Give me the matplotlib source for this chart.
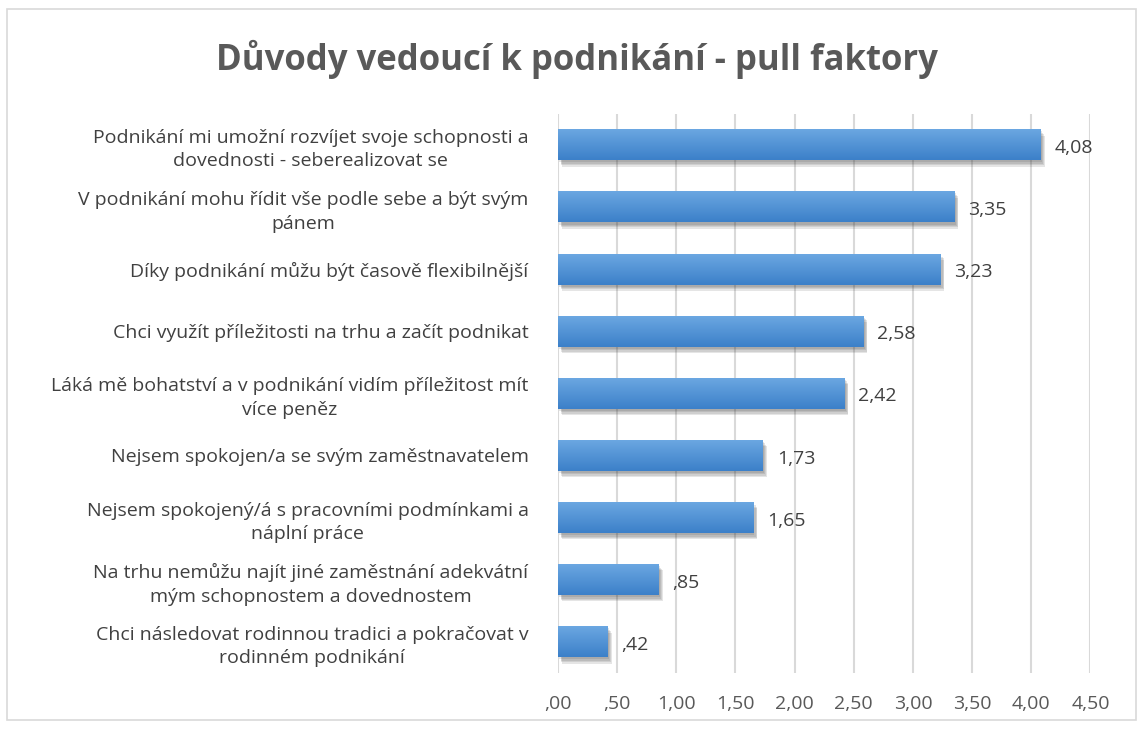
import numpy as np
import matplotlib
matplotlib.use("Agg")
import matplotlib.pyplot as plt
from matplotlib import rcParams
from matplotlib import patheffects as pe
from matplotlib.colors import LinearSegmentedColormap
from matplotlib.patches import Rectangle

rcParams['font.family'] = ['Open Sans', 'DejaVu Sans']

labels = [
    'Podnikání mi umožní rozvíjet svoje schopnosti a\ndovednosti - seberealizovat se',
    'V podnikání mohu řídit vše podle sebe a být svým\npánem',
    'Díky podnikání můžu být časově flexibilnější',
    'Chci využít příležitosti na trhu a začít podnikat',
    'Láká mě bohatství a v podnikání vidím příležitost mít\nvíce peněz',
    'Nejsem spokojen/a se svým zaměstnavatelem',
    'Nejsem spokojený/á s pracovními podmínkami a\nnáplní práce',
    'Na trhu nemůžu najít jiné zaměstnání adekvátní\nmým schopnostem a dovednostem',
    'Chci následovat rodinnou tradici a pokračovat v\nrodinném podnikání',
]
values = [4.08, 3.35, 3.23, 2.58, 2.42, 1.73, 1.65, 0.85, 0.42]
ticks = [0, 0.5, 1, 1.5, 2, 2.5, 3, 3.5, 4, 4.5]


def cz(v):
    s = '%.2f' % v
    s = s.replace('.', ',')
    if s.startswith('0'):
        s = s[1:]
    return s


fig = plt.figure(figsize=(11.43, 7.29), dpi=100)
fig.patch.set_facecolor('white')
# chart border
fig.patches.append(Rectangle((0.006, 0.012), 0.988, 0.975, transform=fig.transFigure,
                             fill=False, edgecolor='#d9d9d9', linewidth=1.2))

ax = fig.add_axes([0.488, 0.077, 0.466, 0.767])
ypos = np.arange(len(values))
bars = ax.barh(ypos, values, height=0.5, color='#4f8fd6', zorder=3)
ax.set_ylim(len(values) - 0.5, -0.5)
ax.set_xlim(0, 4.5)

# gradient fill (light top, darker bottom) + soft shadow (a few stacked offsets)
cmap = LinearSegmentedColormap.from_list('blue', ['#6ca8e2', '#3c80c9'])
grad = np.linspace(0, 1, 64).reshape(-1, 1)
shadow = [pe.SimplePatchShadow(offset=(dx, dy), shadow_rgbFace='#303030', alpha=0.12)
          for dx, dy in [(1, -1.5), (2, -2.5), (2.5, -3.5), (3, -4.5)]]
for b in bars:
    b.set_path_effects(shadow + [pe.Normal()])
    x0, y0 = b.get_x(), b.get_y()
    w, h = b.get_width(), b.get_height()
    im = ax.imshow(grad, cmap=cmap, aspect='auto', extent=(x0, x0 + w, y0, y0 + h),
                   origin='lower', zorder=4, interpolation='bilinear')
    im.set_clip_path(b)

for y, v in zip(ypos, values):
    ax.text(v + 0.12, y + 0.05, cz(v), va='center', ha='left', fontsize=14, color='#404040')

ax.set_xticks(ticks)
ax.set_xticklabels([cz(t) for t in ticks], fontsize=14, color='#595959')
ax.set_yticks(ypos)
ax.set_yticklabels(labels, fontsize=14, color='#404040', multialignment='center',
                   linespacing=1.4)
ax.tick_params(axis='both', length=0)
ax.tick_params(axis='x', pad=16)
ax.tick_params(axis='y', pad=21)
ax.grid(axis='x', color='#d9d9d9', linewidth=1.5, zorder=0)
for s in ax.spines.values():
    s.set_visible(False)

fig.text(0.505, 0.918, 'Důvody vedoucí k podnikání - pull faktory', ha='center', va='center',
         fontsize=25, fontweight='bold', color='#595959')

fig.savefig('out.png', dpi=100)
